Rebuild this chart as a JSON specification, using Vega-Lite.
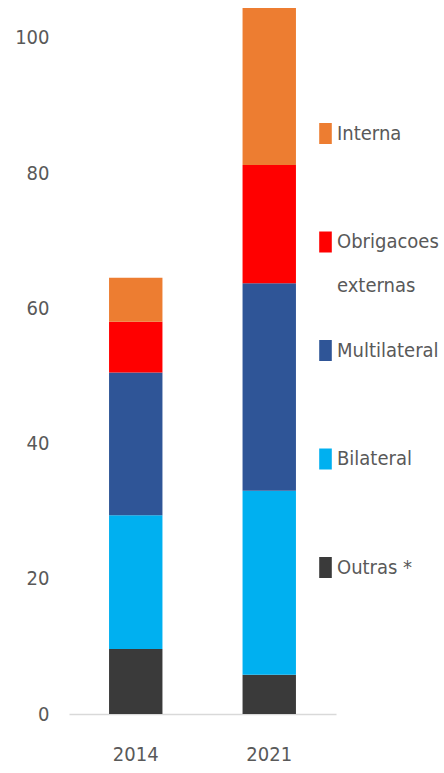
{
  "$schema": "https://vega.github.io/schema/vega-lite/v6.json",
  "width": 267,
  "height": 710,
  "autosize": {"type": "none"},
  "padding": {"left": 69, "top": 4, "right": 108, "bottom": 59},
  "background": "white",
  "config": {"view": {"stroke": null}, "font": "DejaVu Sans Condensed, Roboto"},
  "data": {
    "values": [
      {"Ano": "2014", "Tipo": "Outras *", "Valor": 9.6},
      {"Ano": "2014", "Tipo": "Bilateral", "Valor": 19.8},
      {"Ano": "2014", "Tipo": "Multilateral", "Valor": 21.1},
      {"Ano": "2014", "Tipo": "Obrigacoes externas", "Valor": 7.5},
      {"Ano": "2014", "Tipo": "Interna", "Valor": 6.5},
      {"Ano": "2021", "Tipo": "Outras *", "Valor": 5.8},
      {"Ano": "2021", "Tipo": "Bilateral", "Valor": 27.2},
      {"Ano": "2021", "Tipo": "Multilateral", "Valor": 30.7},
      {"Ano": "2021", "Tipo": "Obrigacoes externas", "Valor": 17.5},
      {"Ano": "2021", "Tipo": "Interna", "Valor": 23.2}
    ]
  },
  "transform": [
    {"calculate": "indexof(['Outras *', 'Bilateral', 'Multilateral', 'Obrigacoes externas', 'Interna'], datum.Tipo)", "as": "ordem"}
  ],
  "mark": {"type": "bar"},
  "encoding": {
    "x": {
      "field": "Ano",
      "type": "nominal",
      "scale": {"paddingInner": 0.6, "paddingOuter": 0.3},
      "axis": {
        "title": null,
        "labelAngle": 0,
        "ticks": false,
        "domainColor": "#D9D9D9",
        "domainWidth": 1.5,
        "labelFontSize": 20,
        "labelColor": "#595959",
        "labelPadding": 30
      }
    },
    "y": {
      "field": "Valor",
      "type": "quantitative",
      "stack": "zero",
      "scale": {"domain": [0, 105]},
      "axis": {
        "title": null,
        "values": [0, 20, 40, 60, 80, 100],
        "domain": false,
        "ticks": false,
        "grid": false,
        "labelFontSize": 20,
        "labelColor": "#595959",
        "labelPadding": 20
      }
    },
    "order": {"field": "ordem", "type": "quantitative", "sort": "ascending"},
    "color": {
      "field": "Tipo",
      "type": "nominal",
      "scale": {
        "domain": ["Outras *", "Bilateral", "Multilateral", "Obrigacoes externas", "Interna"],
        "range": ["#3A3A3A", "#00B0F0", "#2F5597", "#FF0000", "#ED7D31"]
      },
      "legend": {
        "title": null,
        "orient": "none",
        "legendX": 246,
        "legendY": 119,
        "values": ["Interna", "Obrigacoes externas", "Multilateral", "Bilateral", "Outras *"],
        "symbolType": "M-0.6,-1L0.6,-1L0.6,1L-0.6,1Z",
        "symbolSize": 441,
        "symbolStrokeWidth": 0,
        "labelFontSize": 20,
        "labelColor": "#595959",
        "labelOffset": 1,
        "labelLimit": 200,
        "rowPadding": 43.5,
        "labelExpr": "datum.label == 'Obrigacoes externas' ? ['Obrigacoes', 'externas'] : [datum.label, ' ']",
        "encode": {
          "labels": {
            "update": {
              "lineHeight": {"value": 44}
            }
          }
        }
      }
    }
  }
}
